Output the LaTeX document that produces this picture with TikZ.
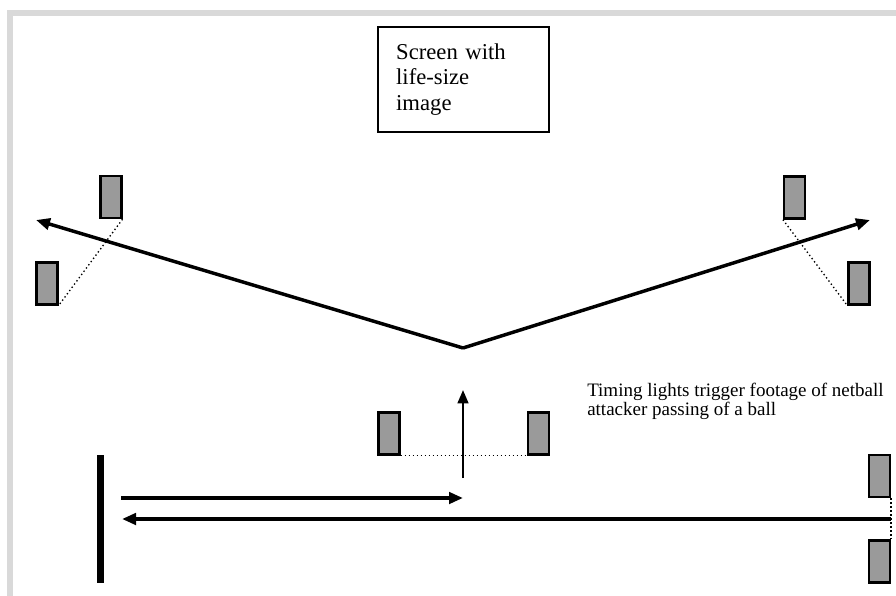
\documentclass[tikz,border=0pt]{standalone}
\usepackage{fontspec}
\setmainfont{Liberation Serif}
\usetikzlibrary{arrows.meta, positioning}
\definecolor{lightgrey}{RGB}{154,154,154}
\definecolor{framegrey}{RGB}{217,217,217}

\begin{document}
\begin{tikzpicture}[x=0.75pt, y=-0.75pt,
    light/.style={draw, line width=1.8pt, fill=lightgrey, inner sep=0pt, minimum width=15.5pt, minimum height=31.5pt},
    beam/.style={dotted, line width=1pt},
    arrow/.style={-{Triangle[length=10.5pt, width=8.5pt]}, line width=2.6pt},
    thinarrow/.style={-{Triangle[length=10pt, width=8pt]}, line width=1.7pt}
]
\useasboundingbox (0,0) rectangle (896,596);

% frame
\fill[framegrey] (7,10) rectangle (13,596);
\fill[framegrey] (7,10) rectangle (896,16);

\node[draw, line width=1.5pt, minimum width=128.2pt, minimum height=78.6pt, text width=101pt, align=left, inner xsep=13.5pt, font=\fontsize{17}{19}\selectfont] (screen) at (463.5,79.5) {Screen with\\life-size\\image};

\node[light] (gateLtop) at (111,197) {};
\node[light] (gateLbot) at (47,283.5) {};
\node[light] (gateRtop) at (794.5,197.5) {};
\node[light] (gateRbot) at (859,283.5) {};
\node[light] (trigL) at (389,433.5) {};
\node[light] (trigR) at (538.5,433.5) {};
\node[light] (startTop) at (879.5,476) {};
\node[light] (startBot) at (879.5,561.5) {};
\node[fill=black, inner sep=0pt, minimum width=5.25pt, minimum height=96pt] (wall) at (100.5,519) {};

\node[anchor=north west, inner sep=0pt, align=left, font=\fontsize{14.25}{12.75}\selectfont] (note) at (587,383) {Timing lights trigger footage of netball\\attacker passing of a ball};

\coordinate (apex) at (463,348);
\coordinate (leftend) at (36,220);
\coordinate (rightend) at (870,220);
\coordinate (trigbase) at (463,478);
\coordinate (trigtip) at (463,390);
\coordinate (runstart) at (121,498);
\coordinate (runturn) at (463,498);
\coordinate (gatemid) at (891,519);
\coordinate (runend) at (122,519);

\draw[beam] (gateLtop.south east) -- (gateLbot.south east);
\draw[beam] (gateRtop.south west) -- (gateRbot.south west);
\draw[beam] (trigL.south east) -- (trigR.south west);
\draw[beam] (startTop.south east) -- (startBot.north east);

\draw[arrow] (apex) -- (leftend);
\draw[arrow] (apex) -- (rightend);
\draw[thinarrow] (trigbase) -- (trigtip);
\draw[arrow] (runstart) -- (runturn);
\draw[arrow] (gatemid) -- (runend);

\end{tikzpicture}
\end{document}
